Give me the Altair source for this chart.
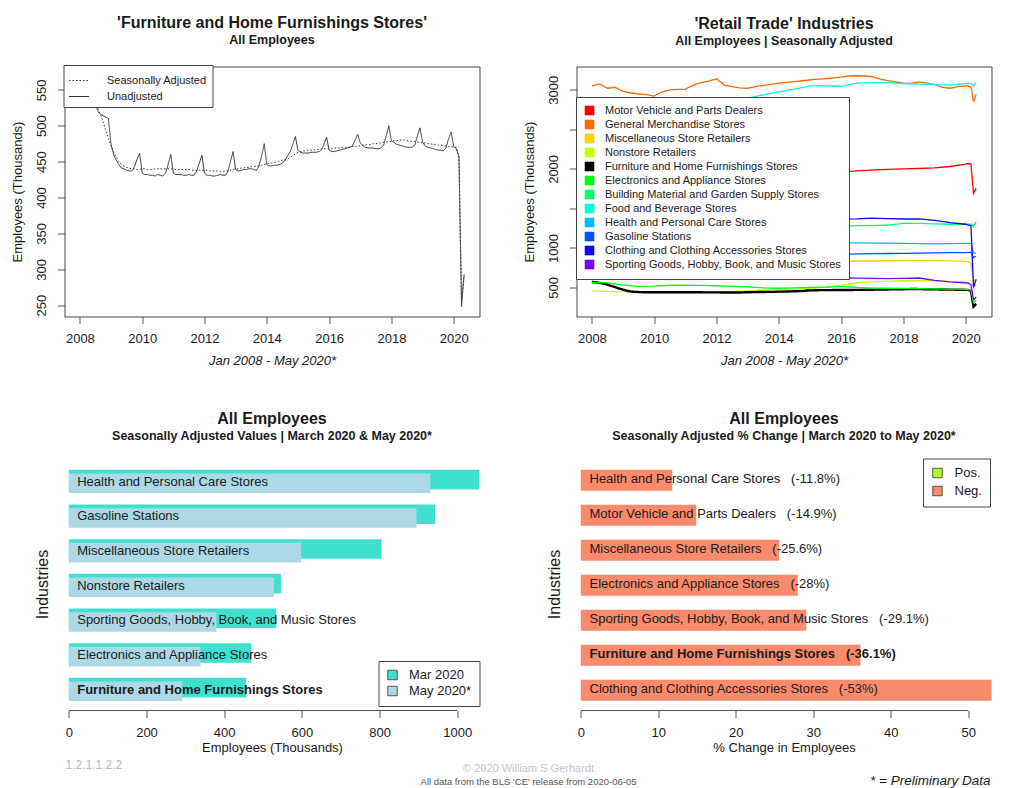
import altair as alt
import pandas as pd

FONT = "Liberation Sans"
INK = "#1a1a1a"
AX = "#555555"
FURN = "Furniture and Home Furnishings Stores"
GAP = "\u00a0\u00a0\u00a0"

# ---------------- Top-left: Furniture & Home Furnishings, monthly Jan 2008 - May 2020 -------------
furn_sa = [
    570, 567, 563, 558, 553, 546, 537, 524, 515, 505, 493, 482,   # 2008
    472, 463, 456, 450, 446, 444, 442, 441, 440, 440, 439, 439,   # 2009
    440, 440, 439, 439, 439, 440, 440, 440, 440, 440, 440, 440,   # 2010
    440, 439, 439, 439, 439, 439, 439, 438, 438, 438, 438, 438,   # 2011
    438, 438, 437, 437, 437, 437, 436, 436, 437, 437, 438, 439,   # 2012
    440, 440, 441, 441, 442, 442, 443, 443, 444, 444, 445, 446,   # 2013
    447, 448, 448, 449, 450, 451, 452, 453, 454, 456, 458, 461,   # 2014
    463, 464, 465, 465, 466, 466, 466, 467, 467, 468, 468, 468,   # 2015
    468, 468, 469, 469, 469, 470, 470, 470, 470, 471, 471, 472,   # 2016
    472, 473, 473, 474, 474, 475, 475, 476, 476, 477, 477, 478,   # 2017
    478, 479, 479, 480, 480, 480, 479, 479, 478, 478, 477, 477,   # 2018
    476, 476, 475, 475, 474, 474, 473, 473, 472, 472, 471, 471,   # 2019
    470, 470, 457, 258, 292,                                      # 2020
]
furn_nsa = [
    568, 565, 562, 557, 552, 546, 530, 519, 516, 514, 512, 510,   # 2008
    474, 460, 452, 446, 441, 440, 438, 437, 437, 443, 453, 462,   # 2009
    434, 432, 432, 431, 431, 430, 432, 431, 430, 434, 446, 460,   # 2010
    434, 432, 432, 432, 431, 431, 432, 431, 431, 437, 448, 459,   # 2011
    434, 431, 431, 430, 430, 431, 432, 431, 431, 436, 450, 464,   # 2012
    439, 437, 438, 439, 439, 440, 440, 439, 438, 444, 458, 475,   # 2013
    446, 444, 444, 445, 445, 446, 448, 452, 458, 464, 474, 485,   # 2014
    466, 463, 462, 462, 462, 463, 463, 463, 464, 466, 474, 484,   # 2015
    466, 464, 464, 465, 466, 467, 468, 469, 470, 472, 480, 488,   # 2016
    476, 472, 470, 469, 469, 469, 468, 468, 469, 473, 486, 500,   # 2017
    479, 477, 474, 473, 472, 471, 470, 470, 470, 473, 486, 497,   # 2018
    477, 472, 470, 469, 468, 467, 466, 466, 465, 469, 482, 491,   # 2019
    471, 468, 457, 248, 293,                                      # 2020
]
months = [2008 + i / 12 for i in range(len(furn_sa))]

year_ticks = [2008, 2010, 2012, 2014, 2016, 2018, 2020]
tl_y_ticks = [250, 300, 350, 400, 450, 500, 550]
tr_y_ticks = [500, 1000, 1500, 2000, 2500, 3000]
tl_series = ["Seasonally Adjusted", "Unadjusted"]

# ---------------- Top-right: Retail trade industries (SA) -------------
t_half = [2008 + 0.5 * i for i in range(24)] + [2020 + i / 12 for i in range(5)]
t_quarter = [2008 + 0.25 * i for i in range(48)] + [2020 + i / 12 for i in range(5)]

motor = [1900, 1830, 1720, 1640, 1620, 1640, 1660, 1690, 1720, 1750, 1790, 1820,
         1850, 1880, 1910, 1940, 1960, 1975, 1985, 1995, 2000, 2005, 2012, 2030,
         2060, 2068, 2060, 1690, 1753]
general = [3050, 3075, 3020, 3030, 2980, 2960, 2950, 2940, 2920, 2975, 3000, 3005,
           3010, 3060, 3090, 3110, 3140, 3060, 3040, 3025, 3020, 3040, 3055, 3070,
           3085, 3095, 3105, 3115, 3125, 3135, 3140, 3150, 3160, 3175, 3178, 3175,
           3168, 3135, 3115, 3100, 3085, 3080, 3100, 3085, 3070, 3030, 3020, 3040,
           3050, 3045, 3040, 2850, 2945]
misc = [870, 860, 830, 800, 790, 790, 790, 785, 785, 790, 795, 800,
        805, 810, 815, 822, 828, 835, 835, 838, 840, 842, 840, 836,
        830, 826, 805, 590, 598]
nonstore = [457, 452, 445, 440, 438, 440, 442, 445, 448, 452, 458, 465,
            472, 480, 490, 505, 525, 560, 572, 580, 585, 588, 585, 575,
            565, 558, 546, 520, 528]
electronics = [565, 558, 530, 515, 518, 528, 530, 527, 522, 515, 508, 495,
               490, 495, 500, 505, 515, 500, 492, 490, 488, 485, 482, 478,
               475, 472, 470, 310, 339]
building = [1300, 1270, 1210, 1160, 1140, 1140, 1140, 1145, 1150, 1160, 1170, 1190,
            1210, 1220, 1240, 1255, 1270, 1283, 1282, 1290, 1310, 1312, 1305, 1300,
            1300, 1302, 1300, 1270, 1330]
food = [2850, 2845, 2830, 2810, 2800, 2800, 2810, 2820, 2840, 2865, 2895, 2935,
        2975, 3010, 3050, 3050, 3045, 3085, 3090, 3090, 3080, 3072, 3065, 3060,
        3080, 3085, 3080, 3045, 3090]
health = [1010, 1005, 995, 990, 985, 980, 980, 985, 995, 1000, 1005, 1015,
          1025, 1035, 1045, 1055, 1060, 1063, 1062, 1060, 1058, 1055, 1052, 1055,
          1057, 1058, 1057, 940, 931]
gasoline = [860, 850, 830, 820, 815, 815, 825, 830, 835, 840, 845, 855,
            865, 880, 895, 905, 915, 925, 928, 930, 932, 935, 938, 940,
            942, 943, 943, 880, 895]
clothing = [1480, 1460, 1400, 1380, 1380, 1390, 1400, 1410, 1420, 1400, 1390, 1380,
            1380, 1385, 1380, 1370, 1365, 1368, 1378, 1372, 1366, 1368, 1350, 1320,
            1300, 1290, 1282, 500, 602]
sporting = [650, 645, 630, 620, 615, 615, 618, 620, 622, 625, 625, 625,
            625, 622, 620, 620, 620, 618, 615, 612, 615, 620, 590, 572,
            560, 555, 534, 345, 380]

rt_names = [
    "Motor Vehicle and Parts Dealers", "General Merchandise Stores",
    "Miscellaneous Store Retailers", "Nonstore Retailers", FURN,
    "Electronics and Appliance Stores", "Building Material and Garden Supply Stores",
    "Food and Beverage Stores", "Health and Personal Care Stores", "Gasoline Stations",
    "Clothing and Clothing Accessories Stores", "Sporting Goods, Hobby, Book, and Music Stores",
]
rt_colors = ["#FF0000", "#FF6800", "#FFD100", "#C5FF00", "#000000", "#00FF0C",
             "#00FF74", "#00FFDC", "#00B9FF", "#0051FF", "#1700FF", "#8000FF"]
rt_data = {
    rt_names[0]: (t_half, motor), rt_names[1]: (t_quarter, general),
    rt_names[2]: (t_half, misc), rt_names[3]: (t_half, nonstore),
    rt_names[4]: (months, furn_sa), rt_names[5]: (t_half, electronics),
    rt_names[6]: (t_half, building), rt_names[7]: (t_half, food),
    rt_names[8]: (t_half, health), rt_names[9]: (t_half, gasoline),
    rt_names[10]: (t_half, clothing), rt_names[11]: (t_half, sporting),
}

# ---------------- Bottom-left: SA values March & May 2020 -------------
bar_industries = ["Health and Personal Care Stores", "Gasoline Stations",
                  "Miscellaneous Store Retailers", "Nonstore Retailers",
                  "Sporting Goods, Hobby, Book, and Music Stores",
                  "Electronics and Appliance Stores", FURN]
mar_2020 = [1057, 943, 805, 546, 534, 470, 457]
may_2020 = [931, 895, 598, 528, 380, 339, 292]
periods = ["Mar 2020", "May 2020*"]
bl_ticks = [0, 200, 400, 600, 800, 1000]

# ---------------- Bottom-right: % change March to May 2020 -------------
pct_industries = ["Health and Personal Care Stores", "Motor Vehicle and Parts Dealers",
                  "Miscellaneous Store Retailers", "Electronics and Appliance Stores",
                  "Sporting Goods, Hobby, Book, and Music Stores", FURN,
                  "Clothing and Clothing Accessories Stores"]
pct_change = [-11.8, -14.9, -25.6, -28, -29.1, -36.1, -53]
signs = ["Pos.", "Neg."]
br_ticks = [0, 10, 20, 30, 40, 50]

# ======================= build frames =======================
tl_df = pd.DataFrame({
    "t": months + months,
    "value": furn_sa + furn_nsa,
    "series": [tl_series[0]] * len(months) + [tl_series[1]] * len(months),
})

rows = []
for name in rt_names:
    ts, vs = rt_data[name]
    for t, v in zip(ts, vs):
        rows.append({"t": t, "value": v, "series": name})
tr_df = pd.DataFrame(rows)

bl_rows = []
for p, vals in zip(periods, [mar_2020, may_2020]):
    for i, (name, v) in enumerate(zip(bar_industries, vals)):
        bl_rows.append({"industry": name, "period": p, "value": v, "rank": i, "base": 0})
bl_df = pd.DataFrame(bl_rows)
bl_lab = pd.DataFrame({"industry": bar_industries, "rank": list(range(len(bar_industries))), "base": 0})

br_df = pd.DataFrame({
    "industry": pct_industries,
    "pct": [abs(v) for v in pct_change],
    "rank": list(range(len(pct_industries))),
    "base": 0,
    "sign": ["Pos." if v > 0 else "Neg." for v in pct_change],
    "label": [f"{n}{GAP}({v:g}%)" for n, v in zip(pct_industries, pct_change)],
})

# ======================= panel geometry =======================
W = 415
H_TOP = 250
H_BOT = 253


def title(main, sub, offset):
    return alt.TitleParams(text=main, subtitle=sub, font=FONT, subtitleFont=FONT,
                           fontSize=16, subtitleFontSize=12.5, fontWeight="bold",
                           subtitleFontWeight="bold", color=INK, subtitleColor=INK,
                           anchor="middle", frame="group", offset=offset, subtitlePadding=3)


x_time = alt.X("t:Q", scale=alt.Scale(domain=[2007.5067, 2020.8267], nice=False, zero=False),
               axis=alt.Axis(values=year_ticks, format="d", title="Jan 2008 - May 2020*",
                             titleFontStyle="italic", domain=False, tickSize=7,
                             labelPadding=9, titlePadding=9))


def y_top_axis(vals, expr=None):
    kw = dict(values=vals, format="d", labelAngle=270, labelAlign="center",
              labelBaseline="bottom", domain=False, tickSize=7, labelPadding=9,
              title="Employees (Thousands)", titlePadding=11)
    if expr:
        kw["labelExpr"] = expr
    return alt.Axis(**kw)


# ---- top-left ----
tl = alt.Chart(tl_df).mark_line(color="#333333", strokeWidth=1).encode(
    x=x_time,
    y=alt.Y("value:Q", scale=alt.Scale(domain=[234.3, 582.5], nice=False, zero=False),
            axis=y_top_axis(tl_y_ticks)),
    strokeDash=alt.StrokeDash("series:N", scale=alt.Scale(domain=tl_series, range=[[1.5, 2], [1, 0]]),
                              legend=alt.Legend(title=None, orient="none", legendX=-1, legendY=-1.5,
                                                direction="vertical", fillColor="white",
                                                strokeColor="#444444", padding=5, symbolType="stroke",
                                                symbolSize=400, symbolStrokeWidth=1,
                                                symbolStrokeColor="#333333", labelFontSize=11,
                                                labelFont=FONT, labelColor=INK, rowPadding=-5.7,
                                                labelOffset=17.5, labelLimit=0)),
).properties(width=W, height=H_TOP,
             title=title("'Furniture and Home Furnishings Stores'", "All Employees", 18),
             view=alt.ViewBackground(stroke="#444444", strokeWidth=1))

# ---- top-right ----
rt_scale = alt.Scale(domain=rt_names, range=rt_colors)
tr_leg = alt.Chart(pd.DataFrame({"series": rt_names})).mark_square(size=0, opacity=1, filled=True).encode(
    color=alt.Color("series:N", scale=rt_scale,
                    legend=alt.Legend(title=None, orient="none", legendX=-0.5, legendY=30.5,
                                      direction="vertical", fillColor="white", strokeColor="#444444",
                                      padding=8, symbolType="square", symbolSize=81,
                                      symbolStrokeColor="#000000", symbolStrokeWidth=0.6,
                                      symbolOpacity=1, labelFontSize=11, labelFont=FONT,
                                      labelColor=INK, rowPadding=1, labelOffset=10, labelLimit=0)),
)
tr_lines = alt.Chart(tr_df).mark_line(clip=True).encode(
    x=x_time,
    y=alt.Y("value:Q", scale=alt.Scale(domain=[133, 3295], nice=False, zero=False),
            axis=y_top_axis(tr_y_ticks, "datum.value == 1500 || datum.value == 2500 ? '' : datum.label")),
    color=alt.Color("series:N", scale=rt_scale, legend=None),
    strokeWidth=alt.condition(alt.datum.series == FURN, alt.value(2.4), alt.value(1.3)),
)
tr = alt.layer(tr_leg, tr_lines).properties(
    width=W, height=H_TOP,
    title=title("'Retail Trade' Industries", "All Employees | Seasonally Adjusted", 19.5),
    view=alt.ViewBackground(stroke="#444444", strokeWidth=1))

# ---- bottom-left ----
bl_x = alt.Scale(domain=[-11.1, 1057.4], nice=False, zero=False)
bl_y = alt.Scale(domain=[-0.355, 6.943], nice=False, zero=False, reverse=True)
bl_xaxis = alt.Axis(values=bl_ticks, format="d", domain=False, tickSize=7, labelPadding=9,
                    title="Employees (Thousands)", titlePadding=2)
ind_axis = alt.Axis(title="Industries", labels=False, ticks=False, domain=False,
                    titleFontSize=16, titlePadding=14)

bl_bars = alt.Chart(bl_df).transform_calculate(
    u0="datum.rank + (datum.period == 'Mar 2020' ? 0 : 0.107)",
    u1="datum.rank + (datum.period == 'Mar 2020' ? 0 : 0.107) + 0.565",
).mark_bar(strokeWidth=0).encode(
    x=alt.X("value:Q", scale=bl_x, axis=bl_xaxis),
    x2="base:Q",
    y=alt.Y("u0:Q", scale=bl_y, axis=ind_axis),
    y2="u1:Q",
    color=alt.Color("period:N", scale=alt.Scale(domain=periods, range=["#40E0D0", "#ADD8E6"]),
                    legend=alt.Legend(title=None, orient="none", legendX=314, legendY=203.5,
                                      direction="vertical", fillColor="white", strokeColor="#444444",
                                      padding=7.5, symbolType="square", symbolSize=90,
                                      symbolStrokeColor="#333333", symbolStrokeWidth=0.8,
                                      labelFontSize=13, labelFont=FONT, labelColor=INK,
                                      rowPadding=2, labelOffset=10, labelLimit=0)),
)


def bar_labels(df, scale_x, scale_y, xaxis, field_text, offset, dx, bold):
    base = alt.Chart(df).transform_calculate(ul=f"datum.rank + {offset}")
    base = base.transform_filter(
        f"datum.industry {'==' if bold else '!='} '{FURN}'")
    return base.mark_text(align="left", baseline="middle", dx=dx, fontSize=13, font=FONT,
                          color=INK, fontWeight="bold" if bold else "normal").encode(
        x=alt.X("base:Q", scale=scale_x, axis=xaxis),
        y=alt.Y("ul:Q", scale=scale_y, axis=ind_axis),
        text=f"{field_text}:N",
    )


bl_text_n = bar_labels(bl_lab, bl_x, bl_y, bl_xaxis, "industry", 0.34, 8.4, False)
bl_text_b = bar_labels(bl_lab, bl_x, bl_y, bl_xaxis, "industry", 0.34, 8.4, True)
bl_rule = alt.Chart(pd.DataFrame({"a": [min(bl_ticks)], "b": [max(bl_ticks)]})).mark_rule(
    color=AX, strokeWidth=1).encode(x=alt.X("a:Q", scale=bl_x, axis=bl_xaxis), x2="b:Q",
                                    y=alt.value(H_BOT))


def footer(text, x, y, size, color, align="center", style="normal"):
    return alt.Chart(pd.DataFrame({"txt": [text]})).mark_text(
        align=align, baseline="middle", fontSize=size, font=FONT, color=color,
        fontStyle=style).encode(x=alt.value(x), y=alt.value(y), text="txt:N")


bl_f1 = footer("1.2.1.1.2.2", 1, 307, 12, "#b8b8b8", align="left")
bl_f2 = footer("\u00a9 2020 William S Gerhardt", 464, 311, 11, "#c4c4c4")
bl_f3 = footer("All data from the BLS 'CE' release from 2020-06-05", 464, 324, 9.5, "#555555")

bl = alt.layer(bl_bars, bl_text_n, bl_text_b, bl_rule, bl_f1, bl_f2, bl_f3).properties(
    width=W, height=H_BOT,
    title=title("All Employees", "Seasonally Adjusted Values | March 2020 & May 2020*", 15),
    view=alt.ViewBackground(stroke="transparent"))

# ---- bottom-right ----
br_x = alt.Scale(domain=[-0.555, 53.0], nice=False, zero=False)
br_y = alt.Scale(domain=[-0.351, 6.877], nice=False, zero=False, reverse=True)
br_xaxis = alt.Axis(values=br_ticks, format="d", domain=False, tickSize=7, labelPadding=9,
                    title="% Change in Employees", titlePadding=2)

br_bars = alt.Chart(br_df).transform_calculate(
    u0="datum.rank", u1="datum.rank + 0.6",
).mark_bar(strokeWidth=0).encode(
    x=alt.X("pct:Q", scale=br_x, axis=br_xaxis),
    x2="base:Q",
    y=alt.Y("u0:Q", scale=br_y, axis=ind_axis),
    y2="u1:Q",
    color=alt.Color("sign:N", scale=alt.Scale(domain=signs, range=["#ADFF2F", "#FA8A6C"]),
                    legend=alt.Legend(title=None, orient="none", legendX=346.5, legendY=1,
                                      direction="vertical", fillColor="white", strokeColor="#444444",
                                      padding=8, symbolType="square", symbolSize=90,
                                      symbolStrokeColor="#333333", symbolStrokeWidth=0.8,
                                      labelFontSize=13, labelFont=FONT, labelColor=INK,
                                      rowPadding=4, labelOffset=10.5, labelLimit=0)),
)
br_text_n = bar_labels(br_df, br_x, br_y, br_xaxis, "label", 0.27, 8.7, False)
br_text_b = bar_labels(br_df, br_x, br_y, br_xaxis, "label", 0.27, 8.7, True)
br_rule = alt.Chart(pd.DataFrame({"a": [min(br_ticks)], "b": [max(br_ticks)]})).mark_rule(
    color=AX, strokeWidth=1).encode(x=alt.X("a:Q", scale=br_x, axis=br_xaxis), x2="b:Q",
                                    y=alt.value(H_BOT))
br_f = footer("* = Preliminary Data", 414, 323, 13.5, INK, align="right", style="italic")

br = alt.layer(br_bars, br_text_n, br_text_b, br_rule, br_f).properties(
    width=W, height=H_BOT,
    title=title("All Employees", "Seasonally Adjusted % Change | March 2020 to May 2020*", 15),
    view=alt.ViewBackground(stroke="transparent"))

chart = alt.concat(tl, tr, bl, br, columns=2, spacing={"row": 141, "column": 97},
                   bounds="flush").resolve_scale(
    color="independent", strokeDash="independent",
).resolve_legend(
    color="independent", strokeDash="independent",
).properties(
    padding={"left": 2.5, "top": 6.5, "right": 0, "bottom": 0},
    background="white",
).configure(font=FONT).configure_axis(
    labelFont=FONT, titleFont=FONT, labelFontSize=13, titleFontSize=13, labelColor=INK,
    titleColor=INK, tickColor=AX, domainColor=AX, grid=False, titleFontWeight="normal",
).configure_view(stroke="transparent")

chart.save("out.html", embed_options={"renderer": "svg", "actions": False})
